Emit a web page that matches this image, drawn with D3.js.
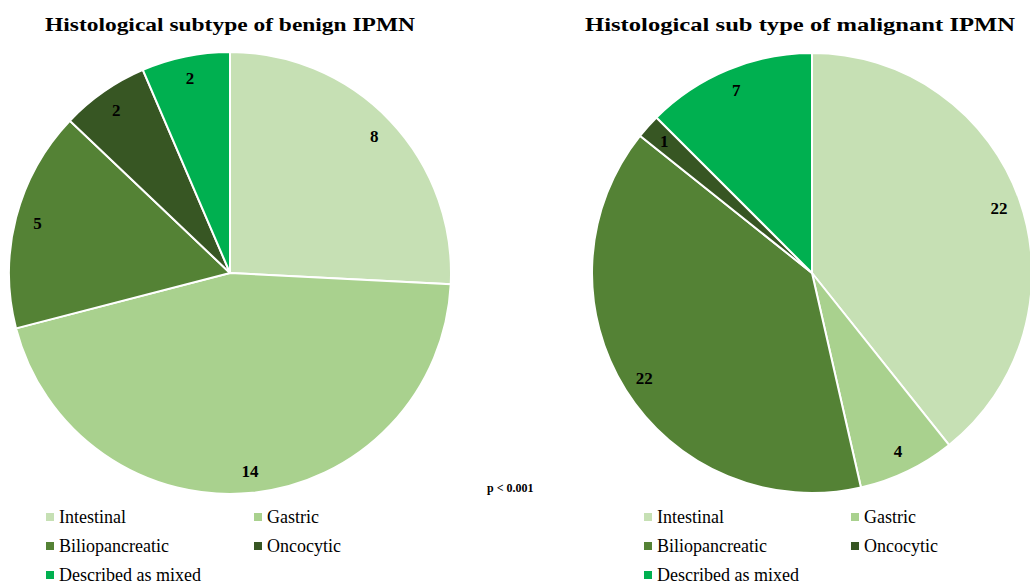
<!DOCTYPE html>
<html>
<meta charset="utf-8">
<style>
  body { margin: 0; background: #fff; }
  svg { width: 1030px; height: 588px; display: block; }
  text { font-family: "Times New Roman", "Liberation Serif", Tinos, serif; fill: #000; }
  .title { font-weight: bold; font-size: 19px; }
  .lbl { font-weight: bold; font-size: 17px; }
  .leg { font-size: 18px; }
</style>
<body>
  <svg></svg>
</body>
<script src="https://d3js.org/d3.v7.min.js"></script>
<script>

var categories = ["Intestinal", "Gastric", "Biliopancreatic", "Oncocytic", "Described as mixed"];
var colors = ["#c6e0b4", "#a9d18e", "#548235", "#375623", "#00b050"];
var benign = [8, 14, 5, 2, 2];
var malignant = [22, 4, 22, 1, 7];
var titles = ["Histological subtype of benign IPMN", "Histological sub type of malignant IPMN"];

var svg = d3.select("svg");

var pies = [
  {data: benign, cx: 230, cy: 273, r: 221, title: titles[0], tx: 230, tw: 370, lx: 50, lx2: 258},
  {data: malignant, cx: 812, cy: 273, r: 220, title: titles[1], tx: 800, tw: 430, lx: 648, lx2: 855}
];

var pie = d3.pie().sort(null).value(function(d){ return d; });

pies.forEach(function(p){
  var g = svg.append("g").attr("transform", "translate(" + p.cx + "," + p.cy + ")");
  var arc = d3.arc().innerRadius(0).outerRadius(p.r);
  var labelArc = d3.arc().innerRadius(p.r * 0.9).outerRadius(p.r * 0.9);
  var arcs = pie(p.data);

  g.selectAll("path")
    .data(arcs)
    .enter().append("path")
      .attr("d", arc)
      .attr("fill", function(d, i){ return colors[i]; })
      .attr("stroke", "#fff")
      .attr("stroke-width", 2);

  g.selectAll("text")
    .data(arcs)
    .enter().append("text")
      .attr("class", "lbl")
      .attr("transform", function(d){ return "translate(" + labelArc.centroid(d) + ")"; })
      .attr("text-anchor", "middle")
      .attr("dy", "0.35em")
      .text(function(d){ return d.data; });

  svg.append("text")
    .attr("class", "title")
    .attr("x", p.tx)
    .attr("y", 31)
    .attr("text-anchor", "middle")
    .attr("textLength", p.tw)
    .attr("lengthAdjust", "spacingAndGlyphs")
    .text(p.title);

  // legend
  var leg = svg.append("g");
  categories.forEach(function(c, i){
    var x = (i % 2 === 0) ? p.lx : p.lx2;
    var y = 517 + Math.floor(i / 2) * 29;
    leg.append("rect")
      .attr("x", x - 4).attr("y", y - 4)
      .attr("width", 8).attr("height", 8)
      .attr("fill", colors[i]);
    leg.append("text")
      .attr("class", "leg")
      .attr("x", x + 9)
      .attr("y", y + 6)
      .text(c);
  });
});

svg.append("text")
  .attr("x", 487)
  .attr("y", 492)
  .attr("font-size", 12)
  .attr("font-weight", "bold")
  .text("p < 0.001");

</script>
</html>
